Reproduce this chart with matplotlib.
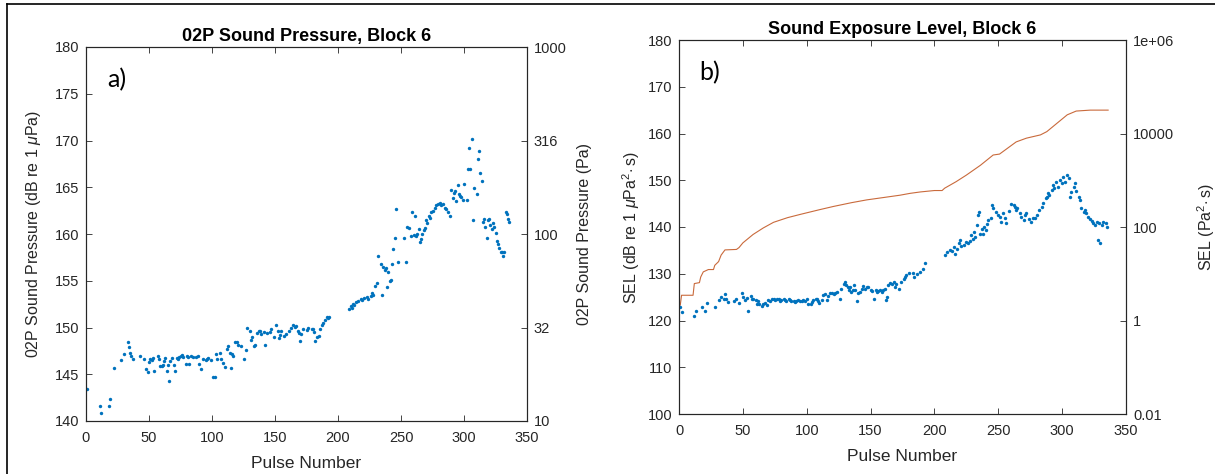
import matplotlib
matplotlib.use("Agg")
import matplotlib.pyplot as plt
from matplotlib.lines import Line2D
from matplotlib.ticker import FixedLocator, FixedFormatter, NullLocator

# police facon MATLAB
plt.rcParams['font.family'] = ['Liberation Sans', 'DejaVu Sans']
plt.rcParams['mathtext.fontset'] = 'custom'
plt.rcParams['mathtext.rm'] = 'Liberation Sans'
plt.rcParams['mathtext.it'] = 'Liberation Sans:italic'

BLUE = '#0072BD'
ORANGE = '#C96A3C'
AXC = '#262626'

# panneau a) : niveau de pression par impulsion (dB re 1 uPa)
a_pulse = [1, 11, 12, 18, 19, 22, 28, 30, 33, 34,
           35, 36, 37, 43, 46, 48, 49, 50, 51, 52,
           53, 54, 57, 58, 59, 60, 61, 62, 63, 64,
           65, 66, 67, 68, 70, 71, 72, 73, 74, 75,
           76, 77, 79, 80, 81, 82, 83, 85, 87, 89,
           90, 91, 93, 95, 96, 97, 99, 101, 102, 103,
           104, 106, 107, 109, 110, 112, 113, 114, 115, 116,
           117, 118, 120, 121, 123, 125, 127, 128, 130, 131,
           132, 133, 134, 136, 137, 138, 139, 141, 142, 144,
           146, 147, 149, 151, 152, 153, 154, 155, 157, 159,
           161, 163, 164, 166, 167, 168, 169, 170, 171, 172,
           175, 176, 179, 180, 181, 182, 183, 185, 186, 187,
           188, 190, 191, 192, 193, 209, 210, 211, 212, 213,
           214, 216, 218, 219, 221, 223, 224, 226, 227, 228,
           229, 231, 232, 234, 235, 236, 237, 238, 239, 240,
           241, 242, 243, 244, 245, 246, 248, 252, 254, 255,
           256, 258, 259, 260, 261, 262, 263, 264, 265, 266,
           267, 268, 269, 270, 271, 272, 273, 274, 275, 277,
           278, 279, 281, 282, 283, 285, 286, 287, 289, 290,
           291, 292, 293, 294, 295, 296, 297, 298, 299, 300,
           302, 303, 304, 305, 306, 307, 308, 310, 311, 312,
           313, 314, 315, 316, 317, 318, 319, 320, 321, 322,
           323, 324, 325, 326, 327, 328, 329, 330, 331, 332,
           333, 334, 335, 336]
a_spl = [143.4, 141.6, 140.9, 141.6, 142.3, 145.7, 146.5, 147.2, 148.5, 147.9,
         147.3, 147.0, 146.6, 146.9, 146.6, 145.6, 145.2, 146.3, 146.6, 146.5,
         146.7, 145.3, 147.0, 146.6, 145.9, 145.9, 146.0, 146.4, 146.7, 145.3,
         146.0, 144.3, 146.4, 146.7, 146.0, 145.3, 146.7, 146.6, 146.8, 147.0,
         147.1, 146.8, 146.1, 147.0, 146.8, 146.1, 147.0, 146.8, 146.8, 146.9,
         146.1, 145.6, 146.6, 146.5, 146.6, 146.7, 146.5, 144.7, 144.7, 147.2,
         146.6, 147.3, 146.6, 146.2, 145.8, 147.7, 148.0, 147.3, 145.7, 147.2,
         146.9, 148.5, 148.4, 148.1, 148.0, 146.6, 147.6, 149.9, 149.6, 148.7,
         149.0, 148.0, 148.1, 149.4, 149.6, 149.6, 149.3, 149.5, 148.1, 149.4,
         149.5, 149.8, 149.0, 150.3, 149.6, 148.9, 149.2, 149.6, 149.1, 149.3,
         149.6, 150.0, 150.3, 150.1, 150.2, 149.6, 149.4, 148.6, 149.3, 149.8,
         149.7, 150.0, 149.8, 149.8, 149.5, 148.6, 149.0, 149.1, 149.8, 150.3,
         150.5, 150.8, 151.1, 151.0, 151.1, 152.0, 152.3, 152.1, 152.5, 152.4,
         152.7, 152.8, 153.1, 152.9, 153.2, 153.3, 153.1, 153.4, 153.7, 153.5,
         154.4, 154.8, 157.7, 156.8, 153.5, 156.5, 156.2, 156.4, 154.3, 155.9,
         155.0, 155.1, 156.8, 158.4, 159.6, 162.7, 157.0, 159.6, 157.0, 160.8,
         160.6, 159.8, 162.3, 159.9, 161.9, 159.8, 160.0, 160.5, 159.1, 159.5,
         160.0, 160.4, 160.6, 161.5, 161.2, 161.9, 161.7, 162.3, 162.5, 162.8,
         163.1, 163.2, 163.3, 163.1, 163.2, 162.8, 162.7, 162.3, 161.9, 164.7,
         163.9, 164.4, 164.6, 163.5, 165.2, 164.3, 164.1, 164.0, 163.6, 165.3,
         163.6, 166.9, 169.2, 167.0, 170.2, 161.5, 164.9, 164.3, 168.0, 168.9,
         166.5, 165.7, 161.3, 161.6, 160.8, 159.6, 161.5, 161.6, 161.0, 160.5,
         161.2, 160.8, 160.1, 159.2, 158.9, 158.5, 158.1, 158.1, 157.7, 158.1,
         162.4, 162.1, 161.6, 161.3]

# panneau b) : SEL par impulsion (dB re 1 uPa^2.s)
b_pulse = [1, 2, 12, 13, 18, 20, 22, 28, 31, 33,
           35, 36, 37, 38, 43, 45, 47, 49, 50, 52,
           53, 54, 56, 57, 58, 60, 61, 62, 63, 65,
           66, 67, 69, 70, 71, 73, 74, 75, 77, 78,
           79, 80, 82, 83, 84, 86, 87, 88, 90, 91,
           92, 93, 95, 96, 97, 99, 100, 101, 103, 104,
           105, 107, 108, 109, 110, 112, 113, 114, 116, 117,
           118, 120, 121, 122, 124, 126, 127, 129, 130, 131,
           132, 133, 134, 135, 136, 137, 138, 139, 140, 142,
           143, 144, 146, 147, 148, 150, 151, 153, 154, 155,
           156, 157, 159, 160, 161, 162, 163, 164, 165, 167,
           168, 169, 170, 172, 174, 176, 177, 178, 180, 183,
           184, 186, 189, 191, 193, 208, 210, 212, 214, 215,
           216, 218, 219, 220, 221, 223, 225, 226, 228, 229,
           230, 231, 232, 233, 234, 235, 236, 237, 238, 239,
           240, 241, 242, 244, 245, 246, 248, 250, 251, 252,
           254, 255, 256, 258, 260, 262, 263, 264, 265, 267,
           268, 270, 271, 272, 274, 276, 277, 279, 280, 282,
           284, 285, 287, 288, 289, 290, 292, 293, 294, 295,
           297, 298, 300, 301, 302, 304, 305, 306, 307, 309,
           310, 311, 313, 314, 315, 317, 318, 319, 320, 322,
           323, 324, 326, 327, 328, 329, 330, 331, 332, 334,
           335]
b_sel = [122.8, 121.8, 120.9, 122.1, 122.9, 122.0, 123.8, 122.8, 124.3, 125.1,
         124.5, 125.6, 124.7, 124.0, 124.1, 124.5, 123.8, 125.8, 125.1, 124.3,
         124.8, 122.0, 125.3, 124.7, 124.7, 124.3, 123.6, 124.2, 123.5, 123.1,
         123.5, 123.8, 123.3, 124.3, 124.2, 124.5, 124.7, 124.3, 124.7, 124.5,
         124.2, 124.3, 124.5, 124.3, 124.2, 124.5, 124.3, 124.1, 124.2, 124.0,
         124.1, 124.3, 124.2, 124.1, 124.3, 124.2, 124.5, 123.6, 123.5, 124.0,
         124.3, 124.7, 124.5, 124.2, 123.8, 124.3, 125.4, 125.6, 124.3, 125.2,
         125.8, 125.9, 125.6, 125.8, 126.1, 124.7, 126.8, 127.9, 128.3, 127.6,
         127.1, 126.5, 127.2, 126.1, 126.6, 127.6, 126.6, 124.2, 125.9, 126.1,
         126.8, 127.3, 126.8, 127.2, 127.1, 126.6, 126.3, 124.7, 126.5, 126.1,
         126.3, 126.6, 126.1, 126.5, 126.8, 124.3, 125.1, 127.6, 128.1, 127.9,
         128.3, 127.2, 127.9, 126.8, 128.3, 128.8, 129.3, 129.7, 130.1, 130.2,
         129.4, 130.0, 130.4, 131.0, 132.2, 134.0, 134.7, 135.1, 134.9, 135.8,
         134.3, 135.4, 136.5, 137.2, 136.0, 136.1, 136.8, 136.5, 137.0, 138.3,
         137.5, 139.0, 137.9, 140.4, 142.5, 143.3, 138.6, 139.5, 138.6, 140.0,
         139.3, 140.6, 141.5, 142.0, 144.7, 144.0, 143.2, 142.5, 142.2, 141.1,
         142.9, 142.0, 140.8, 143.5, 145.0, 144.7, 144.3, 143.6, 144.1, 142.9,
         142.2, 141.5, 142.6, 143.0, 141.8, 141.1, 141.9, 142.0, 142.5, 143.6,
         144.3, 145.2, 146.1, 146.4, 147.2, 146.8, 147.9, 149.0, 148.3, 149.7,
         148.6, 150.0, 149.4, 150.7, 149.7, 151.1, 150.4, 146.4, 147.5, 148.6,
         149.4, 147.6, 146.5, 145.8, 144.0, 143.3, 143.6, 142.9, 142.2, 141.8,
         141.2, 140.9, 140.4, 141.1, 137.2, 140.8, 136.5, 140.5, 141.1, 140.8,
         140.0]

# SEL cumule (courbe orange)
cum_pulse = [1, 2, 11, 12, 16, 17, 19, 23, 27, 28,
             31, 33, 36, 45, 47, 50, 54, 58, 62, 66,
             74, 85, 95, 110, 121, 135, 147, 160, 173, 181,
             189, 200, 206, 208, 217, 225, 236, 246, 251, 257,
             264, 272, 283, 288, 296, 304, 311, 322, 336]
cum_sel = [123.3, 125.4, 125.4, 127.9, 128.1, 129.3, 130.4, 130.9, 130.9, 131.8,
           132.6, 134.0, 135.1, 135.2, 135.6, 136.6, 137.5, 138.4, 139.1, 139.8,
           141.0, 142.0, 142.7, 143.7, 144.4, 145.2, 145.8, 146.3, 146.8, 147.2,
           147.5, 147.8, 147.8, 148.3, 149.7, 151.1, 153.2, 155.4, 155.6, 156.8,
           158.2, 159.0, 159.7, 160.4, 162.2, 164.0, 164.8, 165.0, 165.0]

a_right_ticks = [10, 31.62, 100, 316.2, 1000]
a_right_labels = ['10', '32', '100', '316', '1000']
b_right_ticks = [0.01, 1, 100, 10000, 1e6]
b_right_labels = ['0.01', '1', '100', '10000', '1e+06']
x_ticks = [0, 50, 100, 150, 200, 250, 300, 350]


def style_axes(ax):
    for sp in ax.spines.values():
        sp.set_color(AXC)
        sp.set_linewidth(0.8)
    ax.tick_params(direction='in', length=4, width=0.6, colors=AXC,
                   labelsize=10.5, labelcolor=AXC, pad=5)


fig = plt.figure(figsize=(12.15, 4.74), dpi=100)

# ---- a)
ax1 = fig.add_axes([86 / 1215, 53 / 474, 441 / 1215, 374 / 474])
ax1.scatter(a_pulse, a_spl, s=6, color=BLUE, linewidths=0)
ax1.set_xlim(0, 350)
ax1.set_ylim(140, 180)
ax1.set_xticks(x_ticks)
ax1.set_yticks([140, 145, 150, 155, 160, 165, 170, 175, 180])
style_axes(ax1)
ax1.tick_params(axis='x', top=True, pad=7)
ax1.tick_params(axis='y', right=False)
ax1.set_title('02P Sound Pressure, Block 6', fontweight='bold', fontsize=13, pad=4)
ax1.set_xlabel('Pulse Number', fontsize=12.5, color=AXC)
ax1.xaxis.set_label_coords(0.5, -0.093)
ax1.set_ylabel(r'02P Sound Pressure (dB re 1 $\mu$Pa)', fontsize=11.5, color=AXC)
ax1.yaxis.set_label_coords(-0.098, 0.5)
ax1.text(0.07, 0.912, 'a)', transform=ax1.transAxes, fontsize=18,
         family=['Lato', 'DejaVu Sans'], ha='center', va='center')

ax1r = ax1.twinx()
ax1r.set_yscale('log')
ax1r.set_ylim(10, 1000)
ax1r.yaxis.set_major_locator(FixedLocator(a_right_ticks))
ax1r.yaxis.set_major_formatter(FixedFormatter(a_right_labels))
ax1r.yaxis.set_minor_locator(NullLocator())
style_axes(ax1r)
ax1r.set_ylabel('02P Sound Pressure (Pa)', fontsize=11.5, color=AXC)
ax1r.yaxis.set_label_coords(1.113, 0.5)

# ---- b)
ax2 = fig.add_axes([679 / 1215, 60 / 474, 447 / 1215, 374 / 474])
ax2.scatter(b_pulse, b_sel, s=6, color=BLUE, linewidths=0, zorder=3)
ax2.plot(cum_pulse, cum_sel, color=ORANGE, linewidth=0.8)
ax2.set_xlim(0, 350)
ax2.set_ylim(100, 180)
ax2.set_xticks(x_ticks)
ax2.set_yticks([100, 110, 120, 130, 140, 150, 160, 170, 180])
style_axes(ax2)
ax2.tick_params(axis='x', top=True, pad=7)
ax2.tick_params(axis='y', right=False)
ax2.set_title('Sound Exposure Level, Block 6', fontweight='bold', fontsize=13, pad=4)
ax2.set_xlabel('Pulse Number', fontsize=12.5, color=AXC)
ax2.xaxis.set_label_coords(0.5, -0.093)
ax2.set_ylabel(r'SEL (dB re 1 $\mu$Pa$^2\!\cdot$s)', fontsize=11.5, color=AXC)
ax2.yaxis.set_label_coords(-0.082, 0.5)
ax2.text(0.069, 0.912, 'b)', transform=ax2.transAxes, fontsize=18,
         family=['Lato', 'DejaVu Sans'], ha='center', va='center')

ax2r = ax2.twinx()
ax2r.set_yscale('log')
ax2r.set_ylim(0.01, 1e6)
ax2r.yaxis.set_major_locator(FixedLocator(b_right_ticks))
ax2r.yaxis.set_major_formatter(FixedFormatter(b_right_labels))
ax2r.yaxis.set_minor_locator(NullLocator())
style_axes(ax2r)
ax2r.set_ylabel(r'SEL (Pa$^2\!\cdot$s)', fontsize=11.5, color=AXC)
ax2r.yaxis.set_label_coords(1.155, 0.5)

# cadre noir en haut et a gauche
fig.add_artist(Line2D([7 / 1215, 1.0], [1 - 4 / 474, 1 - 4 / 474],
                      transform=fig.transFigure, color='black', linewidth=1.2))
fig.add_artist(Line2D([7 / 1215, 7 / 1215], [0.0, 1 - 4 / 474],
                      transform=fig.transFigure, color='black', linewidth=1.2))

plt.savefig('out.png', dpi=100)
plt.close()
